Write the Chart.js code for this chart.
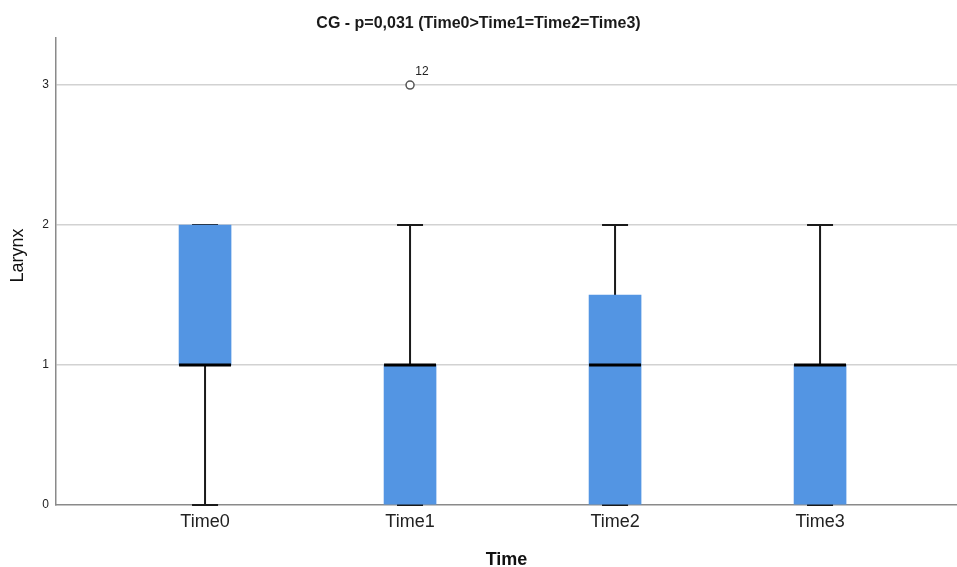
<!DOCTYPE html>
<html>
<head>
<meta charset="utf-8">
<script src="https://cdn.jsdelivr.net/npm/chart.js@4.4.0/dist/chart.umd.min.js"></script>
<style>
  html, body { margin: 0; padding: 0; background: #ffffff; }
  #wrap { width: 957px; height: 567px; }
</style>
</head>
<body>
<div id="wrap"><canvas id="c" width="957" height="567"></canvas></div>
<script>
// ---- data ----
const categories = ['Time0', 'Time1', 'Time2', 'Time3'];
const whiskerMin = [0, 0, 0, 0];
const q1 = [1, 0, 0, 0];
const medians = [1, 1, 1, 1];
const q3 = [2, 1, 1.5, 1];
const whiskerMax = [2, 2, 2, 2];
const outlierCategory = [1];
const outlierValues = [3];
const outlierLabels = ['12'];
const yTicks = [0, 1, 2, 3];
const chartTitle = 'CG - p=0,031 (Time0>Time1=Time2=Time3)';
const xTitle = 'Time';
const yTitle = 'Larynx';

const FONT = "'Liberation Sans', Arial, sans-serif";
const BOX_W = 52;
const CAP_W = 26;

const boxData = categories.map((c, i) => ({ x: i, y: [q1[i], q3[i]] }));
const outlierData = outlierCategory.map((ci, k) => ({ x: ci, y: outlierValues[k] }));

const whiskerPlugin = {
  id: 'whiskers',
  beforeDatasetsDraw(chart) {
    const ctx = chart.ctx, xs = chart.scales.x, ys = chart.scales.y;
    ctx.save();
    ctx.strokeStyle = '#1a1a1a';
    ctx.lineWidth = 2;
    categories.forEach((c, i) => {
      const x = xs.getPixelForValue(i);
      const yMax = ys.getPixelForValue(whiskerMax[i]);
      const yQ3 = ys.getPixelForValue(q3[i]);
      const yQ1 = ys.getPixelForValue(q1[i]);
      const yMin = ys.getPixelForValue(whiskerMin[i]);
      ctx.beginPath();
      ctx.moveTo(x, yQ3); ctx.lineTo(x, yMax);
      ctx.moveTo(x, yQ1); ctx.lineTo(x, yMin);
      ctx.moveTo(x - CAP_W / 2, yMax); ctx.lineTo(x + CAP_W / 2, yMax);
      ctx.moveTo(x - CAP_W / 2, yMin); ctx.lineTo(x + CAP_W / 2, yMin);
      ctx.stroke();
    });
    ctx.restore();
  },
  afterDatasetsDraw(chart) {
    const ctx = chart.ctx, xs = chart.scales.x, ys = chart.scales.y;
    ctx.save();
    ctx.strokeStyle = '#000000';
    ctx.lineWidth = 3;
    categories.forEach((c, i) => {
      const x = xs.getPixelForValue(i);
      const y = ys.getPixelForValue(medians[i]);
      ctx.beginPath();
      ctx.moveTo(x - BOX_W / 2, y); ctx.lineTo(x + BOX_W / 2, y);
      ctx.stroke();
    });
    ctx.fillStyle = '#222222';
    ctx.font = '12px ' + FONT;
    ctx.textAlign = 'center';
    ctx.textBaseline = 'middle';
    outlierCategory.forEach((ci, k) => {
      const x = xs.getPixelForValue(ci);
      const y = ys.getPixelForValue(outlierValues[k]);
      ctx.fillText(outlierLabels[k], x + 12, y - 13);
    });
    // y axis title
    const ca = chart.chartArea;
    ctx.save();
    ctx.translate(18, ca.top + (ca.bottom - ca.top) / 2 - 16);
    ctx.rotate(-Math.PI / 2);
    ctx.fillStyle = '#111111';
    ctx.font = '18px ' + FONT;
    ctx.textAlign = 'center';
    ctx.textBaseline = 'middle';
    ctx.fillText(yTitle, 0, 0);
    ctx.restore();
    ctx.restore();
  }
};

new Chart(document.getElementById('c'), {
  type: 'bar',
  data: {
    datasets: [
      {
        type: 'bar',
        label: 'box',
        data: boxData,
        backgroundColor: '#5395e3',
        borderWidth: 0,
        barThickness: BOX_W,
        order: 2
      },
      {
        type: 'scatter',
        label: 'outliers',
        data: outlierData,
        pointStyle: 'circle',
        pointRadius: 4,
        pointBackgroundColor: '#ffffff',
        pointBorderColor: '#555555',
        pointBorderWidth: 1.5,
        order: 1
      }
    ]
  },
  options: {
    responsive: false,
    animation: false,
    layout: { autoPadding: false, padding: { left: 0, right: 0, top: 0, bottom: 0 } },
    plugins: {
      legend: { display: false },
      tooltip: { enabled: false },
      title: {
        display: true,
        text: chartTitle,
        color: '#1a1a1a',
        font: { family: FONT, size: 16, weight: 'bold', lineHeight: 1.2 },
        padding: { top: 14, bottom: 4.8 }
      }
    },
    scales: {
      x: {
        type: 'linear',
        offset: false,
        min: -0.727,
        max: 3.668,
        afterBuildTicks(scale) { scale.ticks = categories.map((c, i) => ({ value: i })); },
        afterFit(scale) { scale.height = 62; },
        grid: { display: false, drawTicks: false },
        border: { display: true, color: '#8a8a8a', width: 1.5 },
        ticks: {
          callback: (v) => categories[v],
          color: '#222222',
          font: { family: FONT, size: 18, lineHeight: 1.2 },
          padding: 6,
          maxRotation: 0,
          autoSkip: false
        },
        title: {
          display: true,
          text: xTitle,
          color: '#111111',
          font: { family: FONT, size: 18, weight: 'bold', lineHeight: 1 },
          padding: { top: 0, bottom: -2 }
        }
      },
      y: {
        type: 'linear',
        min: 0,
        max: 3.336,
        afterBuildTicks(scale) { scale.ticks = yTicks.map(v => ({ value: v })); },
        afterFit(scale) { scale.width = 56; },
        grid: {
          color: (ctx) => ctx.tick && ctx.tick.value === 0 ? 'rgba(0,0,0,0)' : '#d2d2d2',
          lineWidth: 1.5,
          drawTicks: false
        },
        border: { display: true, color: '#8a8a8a', width: 1.5 },
        ticks: {
          color: '#222222',
          font: { family: FONT, size: 12 },
          padding: 7
        },
        title: { display: false }
      }
    }
  },
  plugins: [whiskerPlugin]
});
</script>
</body>
</html>
